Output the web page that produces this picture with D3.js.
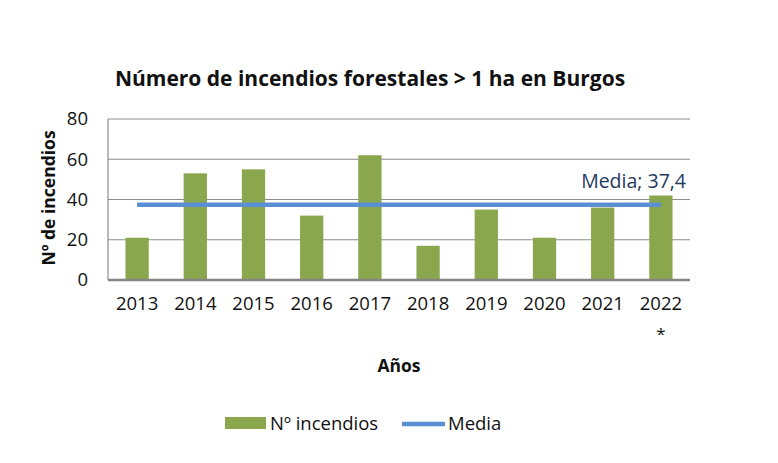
<!DOCTYPE html>
<html><head><meta charset="utf-8">
<script src="https://cdn.jsdelivr.net/npm/d3@7"></script>
<style>body{margin:0;background:#fff}svg{display:block}</style>
</head><body>
<svg id="c" width="778" height="463"></svg>
<script>
const years = ["2013","2014","2015","2016","2017","2018","2019","2020","2021","2022"];
const fires = [21,53,55,32,62,17,35,21,36,42];
const mean = 37.4;
const yTicks = [0,20,40,60,80];
const title = "Número de incendios forestales > 1 ha en Burgos";

const svg = d3.select("#c");
const font = "'Open Sans', 'DejaVu Sans', sans-serif";
const m = {l:108, r:690, t:119, b:280};
const x = d3.scaleBand().domain(years).range([m.l, m.r]).paddingInner(0.6).paddingOuter(0.3);
const y = d3.scaleLinear().domain([0,80]).range([m.b, m.t]);

// gridlines
svg.append("g").selectAll("line").data(yTicks.filter(d=>d>0)).join("line")
  .attr("x1", m.l).attr("x2", m.r).attr("y1", d=>y(d)).attr("y2", d=>y(d))
  .attr("stroke", "#8c8c8c").attr("stroke-width", 1.2);
svg.append("line").attr("x1", m.l).attr("x2", m.l).attr("y1", m.t).attr("y2", m.b)
  .attr("stroke", "#8c8c8c").attr("stroke-width", 1.2);

// y axis labels
const ya = svg.append("g").attr("transform", `translate(${m.l},0)`)
  .call(d3.axisLeft(y).tickValues(yTicks).tickSize(0).tickPadding(20));
ya.select(".domain").remove();
ya.selectAll("text").attr("font-family", font).attr("font-size", 18.5).attr("fill", "#111");

// bars
svg.append("g").selectAll("rect").data(years).join("rect")
  .attr("x", d=>x(d)).attr("width", x.bandwidth())
  .attr("y", (d,i)=>y(fires[i])).attr("height", (d,i)=>y(0)-y(fires[i]))
  .attr("fill", "#8aa74e");

// baseline
svg.append("line").attr("x1", m.l).attr("x2", m.r).attr("y1", y(0)).attr("y2", y(0))
  .attr("stroke", "#858585").attr("stroke-width", 2.5);

// x axis labels
const xa = svg.append("g").attr("transform", `translate(0,${m.b})`)
  .call(d3.axisBottom(x).tickSize(0).tickPadding(17));
xa.select(".domain").remove();
xa.selectAll("text").attr("font-family", font).attr("font-size", 18.5).attr("fill", "#111");
svg.append("text").attr("x", x("2022")+x.bandwidth()/2).attr("y", 340)
  .attr("text-anchor","middle").attr("font-family", font).attr("font-size", 17).attr("fill","#111").text("*");

// mean line
const line = d3.line().x(d=>x(d)+x.bandwidth()/2).y(()=>y(mean));
svg.append("path").datum(years).attr("d", line).attr("fill","none")
  .attr("stroke", "#5b8fd3").attr("stroke-width", 4.5);
svg.append("text").attr("x", 686).attr("y", 188).attr("text-anchor","end")
  .attr("font-family", font).attr("font-size", 19.5).attr("fill", "#1f3a5f")
  .text("Media; " + String(mean).replace(".", ","));

// title
svg.append("text").attr("x", 370).attr("y", 86).attr("text-anchor","middle")
  .attr("font-family", font).attr("font-weight","bold").attr("font-size", 21).attr("fill","#111")
  .text(title);

// axis titles
svg.append("text").attr("transform", `translate(55,198) rotate(-90)`).attr("text-anchor","middle")
  .attr("font-family", font).attr("font-weight","bold").attr("font-size", 17.5).attr("fill","#111")
  .text("Nº de incendios");
svg.append("text").attr("x", 399).attr("y", 372).attr("text-anchor","middle")
  .attr("font-family", font).attr("font-weight","bold").attr("font-size", 17.5).attr("fill","#111")
  .text("Años");

// legend
const lg = svg.append("g");
lg.append("rect").attr("x", 225).attr("y", 417).attr("width", 41).attr("height", 12).attr("fill", "#8aa74e");
lg.append("text").attr("x", 270).attr("y", 430).attr("font-family", font).attr("font-size", 18.5).attr("fill","#111").text("Nº incendios");
lg.append("line").attr("x1", 402).attr("x2", 445).attr("y1", 424).attr("y2", 424).attr("stroke", "#5b8fd3").attr("stroke-width", 4.5);
lg.append("text").attr("x", 448).attr("y", 430).attr("font-family", font).attr("font-size", 18.5).attr("fill","#111").text("Media");
</script>
</body></html>
